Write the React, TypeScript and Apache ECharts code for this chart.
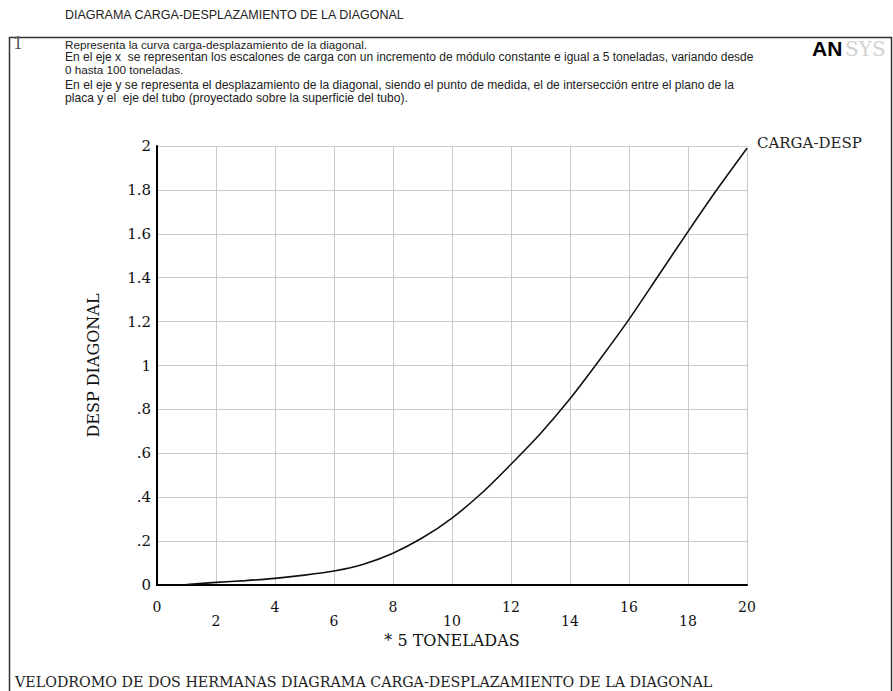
import React, { useEffect, useRef } from "react";
import * as echarts from "echarts";

const loadSteps = [1, 2, 3, 4, 5, 6, 7, 8, 9, 10, 11, 12, 13, 14, 15, 16, 17, 18, 19, 20];
const displacement = [0.002, 0.012, 0.02, 0.03, 0.045, 0.064, 0.095, 0.145, 0.215, 0.305, 0.418, 0.55, 0.69, 0.848, 1.025, 1.21, 1.41, 1.61, 1.805, 1.99];
const seriesName = "CARGA-DESP";
const xAxisTitle = "* 5 TONELADAS";
const yAxisTitle = "DESP DIAGONAL";
const pageTitle = "DIAGRAMA CARGA-DESPLAZAMIENTO DE LA DIAGONAL";
const headerLines = [
  "Representa la curva carga-desplazamiento de la diagonal.",
  "En el eje x  se representan los escalones de carga con un incremento de módulo constante e igual a 5 toneladas, variando desde",
  "0 hasta 100 toneladas.",
  "En el eje y se representa el desplazamiento de la diagonal, siendo el punto de medida, el de intersección entre el plano de la",
  "placa y el  eje del tubo (proyectado sobre la superficie del tubo).",
];
const footerText = "VELODROMO DE DOS HERMANAS DIAGRAMA CARGA-DESPLAZAMIENTO DE LA DIAGONAL";

const SERIF = '"DejaVu Serif", serif';
const SANS = '"Liberation Sans", Arial, sans-serif';

export default function App() {
  const ref = useRef<HTMLDivElement>(null);
  useEffect(() => {
    if (!ref.current) return;
    const chart = echarts.init(ref.current, null, { renderer: "svg" });
    const headerY = [44, 57, 69, 85, 98];
    const headerSize = [11.7, 12.0, 11.7, 12.1, 12.1];
    chart.setOption({
      animation: false,
      backgroundColor: "#ffffff",
      grid: { left: 157, right: 146, top: 146, bottom: 106, containLabel: false },
      xAxis: {
        type: "value",
        min: 0,
        max: 20,
        interval: 2,
        name: xAxisTitle,
        nameLocation: "middle",
        nameGap: 39,
        nameTextStyle: { fontFamily: SERIF, fontSize: 16, color: "#111" },
        axisLine: { show: true, lineStyle: { color: "#000", width: 2 } },
        axisTick: { show: false },
        axisLabel: {
          fontFamily: SERIF,
          fontSize: 14,
          color: "#111",
          margin: 15,
          lineHeight: 14,
          formatter: (v: number, i: number) => (i % 2 === 1 ? "\n" + v : String(v)),
        },
        splitLine: { show: true, lineStyle: { color: "#cacaca", width: 1 } },
      },
      yAxis: {
        type: "value",
        min: 0,
        max: 2,
        interval: 0.2,
        name: yAxisTitle,
        nameLocation: "middle",
        nameGap: 56,
        nameRotate: 90,
        nameTextStyle: { fontFamily: SERIF, fontSize: 16, color: "#111" },
        axisLine: { show: true, lineStyle: { color: "#000", width: 2 } },
        axisTick: { show: false },
        axisLabel: {
          fontFamily: SERIF,
          fontSize: 15,
          color: "#111",
          margin: 6,
          formatter: (v: number) => {
            const r = Number(v.toFixed(1));
            if (r === 0) return "0";
            return String(r).replace(/^0\./, ".");
          },
        },
        splitLine: { show: true, lineStyle: { color: "#cacaca", width: 1 } },
      },
      series: [
        {
          name: seriesName,
          type: "line",
          data: loadSteps.map((x, i) => [x, displacement[i]]),
          showSymbol: false,
          symbol: "none",
          smooth: 0.25,
          lineStyle: { color: "#111", width: 1.6 },
        },
      ],
      graphic: [
        {
          type: "rect",
          shape: { x: 9.5, y: 37.5, width: 882, height: 700 },
          style: { fill: "none", stroke: "#333", lineWidth: 1.5 },
        },
        {
          type: "text",
          x: 65,
          y: 15,
          style: { text: pageTitle, font: `12.5px ${SANS}`, fill: "#222", verticalAlign: "middle" },
        },
        {
          type: "text",
          x: 13,
          y: 43,
          style: { text: "1", font: `16px ${SERIF}`, fill: "#555", verticalAlign: "middle" },
        },
        ...headerLines.map((t, i) => ({
          type: "text",
          x: 65,
          y: headerY[i],
          style: { text: t, font: `${headerSize[i]}px ${SANS}`, fill: "#222", verticalAlign: "middle" },
        })),
        {
          type: "text",
          x: 812,
          y: 48,
          style: { text: "AN", font: `bold 21px ${SANS}`, fill: "#000", verticalAlign: "middle" },
        },
        {
          type: "text",
          x: 845,
          y: 49,
          style: { text: "SYS", font: `20px ${SERIF}`, fill: "#d2d2d2", verticalAlign: "middle" },
        },
        {
          type: "text",
          x: 757,
          y: 143,
          style: { text: seriesName, font: `15px ${SERIF}`, fill: "#222", verticalAlign: "middle" },
        },
        {
          type: "text",
          x: 15,
          y: 682,
          scaleX: 1.02,
          style: { text: footerText, font: `14px ${SERIF}`, fill: "#222", verticalAlign: "middle" },
        },
      ],
    });
    return () => chart.dispose();
  }, []);
  return (
    <div
      ref={ref}
      style={{ position: "absolute", left: 0, top: 0, width: 893, height: 691, background: "#fff" }}
    />
  );
}
